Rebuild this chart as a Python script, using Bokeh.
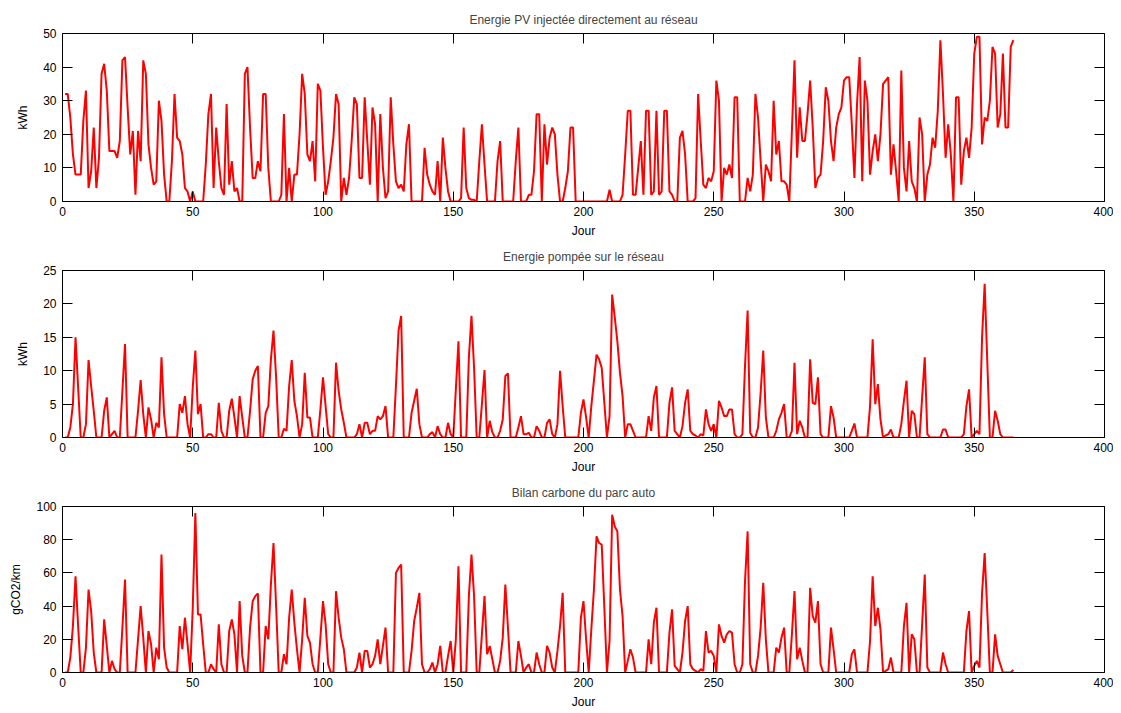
import numpy as np
from bokeh.plotting import figure
from bokeh.models import Range1d, LinearAxis, SingleIntervalTicker
from bokeh.layouts import column
from bokeh.embed import file_html
from bokeh.resources import INLINE

# ---------------- data (one value per day, days 1..365) ----------------
days = list(range(1, 366))

pv_injected = [
    32, 32, 25, 14, 8, 8, 8, 24, 33, 4,
    9, 22, 4, 13, 38, 41, 33, 15, 15, 15,
    13, 18, 42, 43, 28, 14, 21, 2, 21, 12,
    42, 38, 17, 10, 5, 6, 30, 24, 8, 0,
    0, 12, 32, 19, 18, 14, 4, 3, 0, 3,
    0, 0, 0, 0, 11, 26, 32, 4, 22, 12,
    4, 2, 29, 5, 12, 3, 4, 0, 0, 38,
    40, 22, 7, 7, 12, 9, 32, 32, 10, 0,
    0, 0, 0, 2, 26, 0, 10, 0, 8, 8,
    20, 38, 32, 14, 12, 18, 6, 35, 33, 16,
    2, 6, 12, 19, 32, 29, 0, 7, 2, 7,
    18, 31, 29, 7, 7, 31, 18, 5, 28, 23,
    0, 26, 10, 1, 3, 31, 17, 6, 4, 5,
    3, 17, 23, 0, 0, 0, 0, 0, 16, 8,
    5, 3, 2, 12, 0, 19, 10, 3, 0, 0,
    0, 0, 1, 22, 4, 1, 0.5, 0.5, 0, 12,
    23, 11, 0, 0, 0, 0, 12, 18, 0, 0,
    0, 0, 0, 12, 22, 0, 0, 0, 2, 2,
    9, 26, 26, 0, 23, 11, 19, 22, 20, 8,
    0, 0, 4, 9, 22, 22, 0, 0, 0, 0,
    0, 0, 0, 0, 0, 0, 0, 0, 0, 3.5,
    0, 0, 0, 0, 2, 14, 27, 27, 2, 2,
    10, 18, 2, 27, 27, 2, 3, 27, 2, 3,
    27, 27, 3, 2, 0, 0, 19, 21, 14, 0,
    0, 0, 1, 32, 18, 5, 4, 7, 6, 9,
    36, 30, 0, 10, 8, 11, 7, 31, 31, 0,
    0, 0, 7, 3, 8, 32, 25, 12, 0, 11,
    9, 6, 30, 14, 18, 6, 6, 5, 0, 21,
    42, 13, 28, 18, 18, 26, 36, 22, 4, 7,
    8, 18, 34, 30, 18, 12, 22, 26, 28, 36,
    37, 37, 23, 7, 29, 43, 6, 36, 30, 8,
    15, 20, 12, 20, 35, 36, 37, 8, 17, 9,
    0, 39, 10, 3, 18, 6, 4, 0, 25, 20,
    0, 8, 11, 19, 16, 27, 48, 32, 13, 23,
    14, 0, 31, 31, 5, 15, 19, 13, 22, 44,
    49, 49, 17, 25, 24, 30, 46, 44, 22, 26,
    44, 22, 22, 46, 48,
]

grid_drawn = [
    0, 0, 1.5, 5, 15, 7.5, 0, 0, 2, 11.6,
    7.7, 4, 0, 0, 0, 4, 6, 0, 0.5, 1,
    0, 0, 7, 14, 0, 0, 0, 0, 4, 8.6,
    3.5, 0, 4.5, 2.7, 0, 2.2, 1.5, 12, 3.5, 0,
    0, 0, 0, 0, 5, 3.7, 6.2, 2, 0, 7.5,
    13, 3.5, 5, 0, 0, 0.5, 0.5, 0, 0, 5.2,
    1, 0, 0, 4, 5.8, 3, 0, 6.2, 3, 0,
    0, 4, 8.7, 10, 10.7, 0, 0, 3.7, 4.7, 11.7,
    16, 9, 0, 0, 1.3, 1, 7.7, 11.6, 5.5, 3.2,
    0, 2, 9.7, 3, 3, 0, 0, 0, 4.2, 9,
    4.7, 0.5, 0, 0, 11.2, 7, 4.2, 2.2, 0, 0,
    0, 0, 0.5, 2, 0, 2.2, 2.2, 0.5, 1, 1,
    3.2, 2.7, 3.2, 4.7, 0, 0, 0, 7.7, 16, 18.2,
    0, 0, 0, 3.7, 5.5, 7.3, 2, 0, 0, 0,
    0.5, 0.8, 0, 1.7, 0.5, 0, 0, 2.2, 0.5, 0,
    7.2, 14.4, 0, 0, 0, 12, 18.2, 10.4, 0, 0,
    5, 10.1, 0, 2.5, 0.8, 0, 0, 1, 2.7, 9.2,
    9.6, 0, 0, 0, 1.5, 3.2, 0.5, 0.5, 0.7, 0,
    0, 1.7, 1, 0, 0, 2.2, 2.7, 0.5, 0, 2,
    10, 4.7, 0, 0, 0, 0, 0, 0, 3.7, 5.7,
    3, 0, 4.7, 8.5, 12.4, 11.7, 10.4, 5.2, 0, 3.2,
    21.4, 18, 14.4, 9.7, 6.2, 0, 2, 2, 1, 0,
    0, 0, 0, 0, 3.2, 1, 6, 7.7, 0, 0,
    0, 0, 5.2, 7.5, 1, 0.5, 0, 1.7, 5.2, 7.2,
    1, 0.5, 0.3, 0, 0.5, 0.3, 4.2, 2, 1, 2,
    0, 5.5, 4.5, 3.2, 3.2, 4.2, 4.2, 0.5, 0, 0,
    0.5, 10.7, 19, 0.7, 0, 0, 1.5, 6.7, 13, 3,
    0, 0, 0, 1, 2.7, 3.7, 5, 0, 0, 1,
    11.2, 0.5, 2.5, 1.5, 0, 0, 11.7, 5.2, 5, 9,
    0.5, 0, 0, 0, 4.7, 3, 0, 0, 0, 0,
    0, 0, 1, 2.1, 0, 0, 0, 0, 0, 4.7,
    14.7, 5, 8, 2.7, 0, 0.3, 0.5, 1.2, 0, 0,
    0, 2, 5.5, 8.5, 0, 4, 3.5, 0, 0, 6,
    12, 0.5, 0, 0, 0, 0, 0, 1.2, 1.2, 0,
    0, 0, 0, 0, 0, 0.5, 4.7, 7.2, 0, 0.5,
    1, 0.5, 15, 23, 11.4, 0, 0, 4, 2.5, 0.5,
    0, 0, 0, 0, 0,
]

carbon = [
    0, 0, 9, 28, 58, 28, 0, 0, 15, 50,
    37, 12, 0, 0, 0, 32, 16, 0, 7, 2,
    0, 0, 27, 56, 0, 0, 0, 0, 20, 40,
    21, 0, 25, 17, 0, 15, 8, 71, 15, 3,
    0, 0, 0, 0, 28, 14, 33, 17, 0, 39,
    96, 35, 35, 17, 0, 0, 5, 2, 0, 29,
    5, 0, 0, 25, 32, 23, 0, 43, 10, 0,
    0, 27, 43, 46, 47.6, 0, 0, 28, 20, 53,
    78, 40, 0, 0, 11, 5, 33, 50, 30, 14,
    0, 20, 45, 22, 18, 5, 0, 0, 21, 43,
    29, 5, 0, 0, 49, 33, 21, 14, 0, 0,
    0, 0, 3, 12, 0, 13, 13, 3, 5, 10,
    20, 5, 16, 27, 0, 0, 0, 60, 63, 65,
    0, 0, 0, 13, 31, 39, 48, 5, 0, 0,
    2, 6, 0, 5, 16, 0, 0, 10, 19, 0,
    20, 64, 0, 0, 0, 46, 71, 46, 0, 0,
    23, 46, 11, 16, 8, 0, 0, 7, 21, 53,
    27, 0, 0, 0, 19, 10, 0, 3, 5, 0,
    0, 12, 5, 0, 0, 16, 12, 3, 0, 13,
    28, 48, 0, 0, 0, 0, 0, 0, 33, 43,
    20, 0, 26, 50, 82, 78, 77, 39, 0, 19,
    95, 88, 85, 50, 34, 0, 7, 14, 9, 0,
    0, 0, 0, 0, 20, 5, 30, 39, 0, 0,
    0, 0, 24, 38, 4, 2, 0, 12, 31, 40,
    5, 2, 1, 0, 2, 1, 25, 12, 13, 10,
    0, 29, 22, 18, 23, 25, 24, 5, 0, 0,
    5, 55, 85, 5, 0, 0, 10, 27, 54, 20,
    0, 0, 0, 15, 12, 21, 27, 0, 0, 23,
    49, 8, 15, 7, 0, 0, 51, 34, 30, 43,
    5, 0, 0, 0, 27, 14, 0, 0, 0, 0,
    0, 0, 11, 14, 0, 0, 0, 0, 0, 19,
    58, 28, 39, 26, 0, 1, 2, 9, 0, 0,
    0, 0, 28, 42, 0, 23, 20, 0, 0, 29,
    59, 3, 0, 0, 0, 0, 0, 12, 5, 0,
    0, 0, 0, 0, 0, 0, 25, 37, 0, 4,
    7, 3, 48, 72, 37, 0, 0, 23, 10, 5,
    0, 0, 0, 0, 1.5,
]

titles = ["Energie PV injectée directement au réseau",
          "Energie pompée sur le réseau",
          "Bilan carbone du parc auto"]
ylabels = ["kWh", "kWh", "gCO2/km"]
ymax = [50, 25, 100]
ystep = [10, 5, 20]
xlabel = "Jour"

FONT = "Liberation Sans"
FS = "12px"


def style_axis(ax):
    ax.axis_line_color = "black"
    ax.axis_line_width = 1
    ax.major_tick_line_color = "black"
    ax.major_tick_in = 10
    ax.major_tick_out = 0
    ax.minor_tick_line_color = None
    ax.major_label_text_font = FONT
    ax.major_label_text_font_size = FS
    ax.major_label_text_color = "black"
    ax.major_label_text_line_height = 1.0
    ax.axis_label_text_font = FONT
    ax.axis_label_text_font_size = FS
    ax.axis_label_text_font_style = "normal"
    ax.axis_label_text_color = "black"
    ax.axis_label_text_line_height = 1.0


def make_panel(y, title, ylab, top, step, height, btop, bbot):
    p = figure(width=1113, height=height, output_backend="svg",
               toolbar_location=None, tools="",
               x_range=Range1d(0, 400), y_range=Range1d(0, top),
               min_border_left=62, min_border_right=9,
               min_border_top=btop, min_border_bottom=bbot)
    p.title.text = title
    p.title.align = "center"
    p.title.text_font = FONT
    p.title.text_font_size = FS
    p.title.text_font_style = "normal"
    p.title.text_line_height = 1.0
    p.title.standoff = 14
    p.title.offset = 0
    p.grid.visible = False
    p.outline_line_color = None
    p.background_fill_color = "white"
    p.border_fill_color = "white"

    p.line(days, y, line_color="#ff0000", line_width=2)

    bottom = p.below[0]
    left = p.left[0]
    bottom.ticker = SingleIntervalTicker(interval=50, num_minor_ticks=0)
    left.ticker = SingleIntervalTicker(interval=step, num_minor_ticks=0)
    bottom.axis_label = xlabel
    left.axis_label = ylab

    extra_top = LinearAxis(ticker=SingleIntervalTicker(interval=50, num_minor_ticks=0))
    extra_right = LinearAxis(ticker=SingleIntervalTicker(interval=step, num_minor_ticks=0))
    p.add_layout(extra_top, "above")
    p.add_layout(extra_right, "right")

    for ax in [bottom, left, extra_top, extra_right]:
        style_axis(ax)
    for ax in [extra_top, extra_right]:
        ax.major_label_text_font_size = "0px"
        ax.major_label_text_color = None
        ax.major_label_standoff = 0

    bottom.major_label_standoff = 5
    bottom.axis_label_standoff = 5
    left.major_label_standoff = 6
    left.axis_label_standoff = 10
    return p


p1 = make_panel(pv_injected, titles[0], ylabels[0], ymax[0], ystep[0], 240, 33, 39)
p2 = make_panel(grid_drawn, titles[1], ylabels[1], ymax[1], ystep[1], 236, 30, 39)
p3 = make_panel(carbon, titles[2], ylabels[2], ymax[2], ystep[2], 237, 29, 41)

layout = column(p1, p2, p3, spacing=0)
open("out.html", "w").write(file_html(layout, INLINE))
